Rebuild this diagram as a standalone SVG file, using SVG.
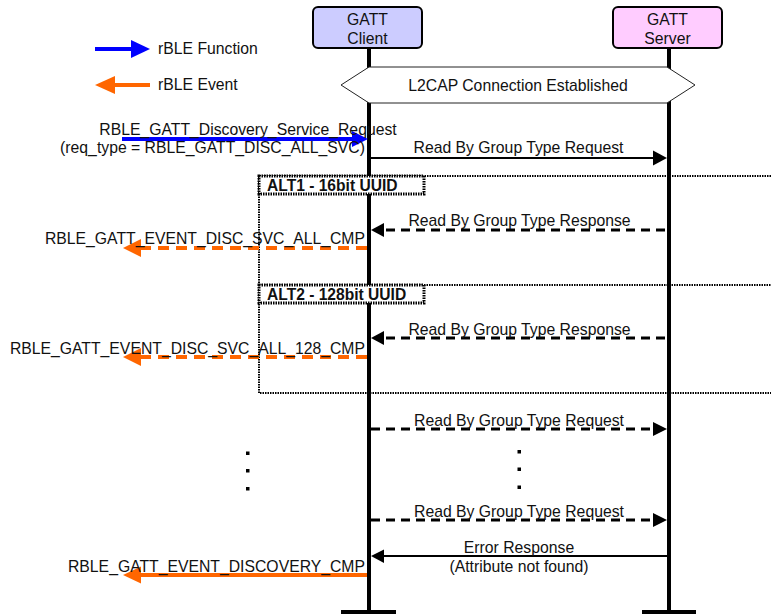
<svg xmlns="http://www.w3.org/2000/svg" width="771" height="616" viewBox="0 0 771 616">
  <defs>
    <style>
      text { font-family: "Liberation Sans", Arial, sans-serif; font-size: 15.75px; fill: #111; }
      .bold { font-weight: bold; font-size: 15.6px; }
      .mid { text-anchor: middle; }
      .end { text-anchor: end; }
      .life { stroke: #000; stroke-width: 4; fill: none; }
      .bar { stroke: #000; stroke-width: 4; }
      .box { stroke: #000; stroke-width: 2; }
      .msg { stroke: #000; stroke-width: 2; fill: none; }
      .msg-dash { stroke: #000; stroke-width: 3; stroke-dasharray: 9 6; fill: none; }
      .evt { stroke: #ff6600; stroke-width: 4; fill: none; }
      .evt-dash { stroke: #ff6600; stroke-width: 4; stroke-dasharray: 11 7; fill: none; }
      .fn { stroke: #0000ff; stroke-width: 4; fill: none; }
      .frame { stroke: #000; stroke-width: 2; stroke-dasharray: 1.5 1; fill: none; }
      .tag { stroke: #000; stroke-width: 3; stroke-dasharray: 1.5 1; fill: #fff; }
      .dot { fill: #000; }
    </style>
  </defs>

  <!-- legend -->
  <g id="legend">
    <line class="fn" x1="95" y1="49" x2="134" y2="49"/>
    <polygon points="150,49 131,40 131,58" fill="#0000ff"/>
    <text x="158" y="54">rBLE Function</text>
    <line class="evt" x1="112" y1="85" x2="150" y2="85"/>
    <polygon points="95,85 115,76 115,94" fill="#ff6600"/>
    <text x="158" y="90">rBLE Event</text>
  </g>

  <!-- lifelines -->
  <g id="lifelines">
    <line class="life" x1="369" y1="48" x2="369" y2="612"/>
    <line class="bar" x1="341" y1="612" x2="396" y2="612"/>
    <line class="life" x1="669" y1="48" x2="669" y2="612"/>
    <line class="bar" x1="642" y1="612" x2="696" y2="612"/>
  </g>

  <!-- participants -->
  <g id="gatt-client">
    <rect class="box" x="313" y="7" width="109" height="41" rx="5" fill="#ccccff"/>
    <text class="mid" x="367.5" y="24.5">GATT</text>
    <text class="mid" x="367.5" y="43.5">Client</text>
  </g>
  <g id="gatt-server">
    <rect class="box" x="613" y="7" width="109" height="41" rx="5" fill="#ffccff"/>
    <text class="mid" x="667.5" y="24.5">GATT</text>
    <text class="mid" x="667.5" y="43.5">Server</text>
  </g>

  <!-- connection state -->
  <g id="l2cap-state">
    <polygon points="341,85 369,67 667,67 695,85 667,103 369,103" fill="#fff" stroke="#222" stroke-width="1"/>
    <text class="mid" x="518" y="90.5">L2CAP Connection Established</text>
  </g>

  <!-- alternative fragment -->
  <g id="alt-fragment">
    <polyline class="frame" points="771,176 259,176 259,393 771,393"/>
    <line class="frame" x1="259" y1="285" x2="771" y2="285"/>
    <rect class="tag" x="259" y="176" width="165" height="18"/>
    <text class="bold" x="267" y="190.5">ALT1 - 16bit UUID</text>
    <rect class="tag" x="259" y="285" width="165" height="18"/>
    <text class="bold" x="267" y="299.5">ALT2 - 128bit UUID</text>
  </g>

  <!-- messages -->
  <g id="connectors">
    <!-- function call -->
    <line class="fn" x1="122" y1="139" x2="355" y2="139"/>
    <polygon points="368,139 352,131 352,147" fill="#0000ff"/>
    <text class="mid" x="248" y="134.5">RBLE_GATT_Discovery_Service_Request</text>
    <text class="mid" x="212.5" y="152.5">(req_type = RBLE_GATT_DISC_ALL_SVC)</text>

    <line class="msg" x1="371" y1="158" x2="654" y2="158"/>
    <polygon points="667,158 653,150.5 653,165.5" fill="#000"/>
    <text class="mid" x="518.5" y="152.5">Read By Group Type Request</text>

    <!-- ALT1 -->
    <line class="msg-dash" x1="665" y1="230" x2="382" y2="230"/>
    <polygon points="371,230 384,223 384,237" fill="#000"/>
    <text class="mid" x="519.5" y="225.5">Read By Group Type Response</text>
    <line class="evt-dash" x1="367" y1="248" x2="138" y2="248"/>
    <polygon points="123,248 141,239 141,257" fill="#ff6600"/>
    <text class="end" x="365" y="243.5">RBLE_GATT_EVENT_DISC_SVC_ALL_CMP</text>

    <!-- ALT2 -->
    <line class="msg-dash" x1="665" y1="338" x2="382" y2="338"/>
    <polygon points="371,338 384,331 384,345" fill="#000"/>
    <text class="mid" x="519.5" y="334.5">Read By Group Type Response</text>
    <line class="evt-dash" x1="367" y1="357" x2="138" y2="357"/>
    <polygon points="123,357 141,348 141,366" fill="#ff6600"/>
    <text class="end" x="365" y="353.5">RBLE_GATT_EVENT_DISC_SVC_ALL_128_CMP</text>

    <!-- repeated requests -->
    <line class="msg-dash" x1="371" y1="429" x2="654" y2="429"/>
    <polygon points="667,429 653,422 653,436" fill="#000"/>
    <text class="mid" x="519" y="425.5">Read By Group Type Request</text>

    <rect class="dot" x="246" y="451.5" width="3.5" height="3.5"/>
    <rect class="dot" x="246" y="469" width="3.5" height="3.5"/>
    <rect class="dot" x="246" y="487" width="3.5" height="3.5"/>
    <rect class="dot" x="517.5" y="450" width="3.5" height="3.5"/>
    <rect class="dot" x="517.5" y="467.5" width="3.5" height="3.5"/>
    <rect class="dot" x="517.5" y="485.5" width="3.5" height="3.5"/>

    <line class="msg-dash" x1="371" y1="520" x2="654" y2="520"/>
    <polygon points="667,520 653,513 653,527" fill="#000"/>
    <text class="mid" x="519" y="516.5">Read By Group Type Request</text>

    <!-- error response -->
    <line class="msg" x1="667" y1="556" x2="382" y2="556"/>
    <polygon points="371,556 384,549.5 384,563" fill="#000"/>
    <text class="mid" x="519" y="553">Error Response</text>
    <text class="mid" x="519" y="571.5">(Attribute not found)</text>

    <line class="evt" x1="367" y1="575" x2="138" y2="575"/>
    <polygon points="123,575 141,566.5 141,583.5" fill="#ff6600"/>
    <text class="end" x="365" y="571.5">RBLE_GATT_EVENT_DISCOVERY_CMP</text>
  </g>
</svg>
